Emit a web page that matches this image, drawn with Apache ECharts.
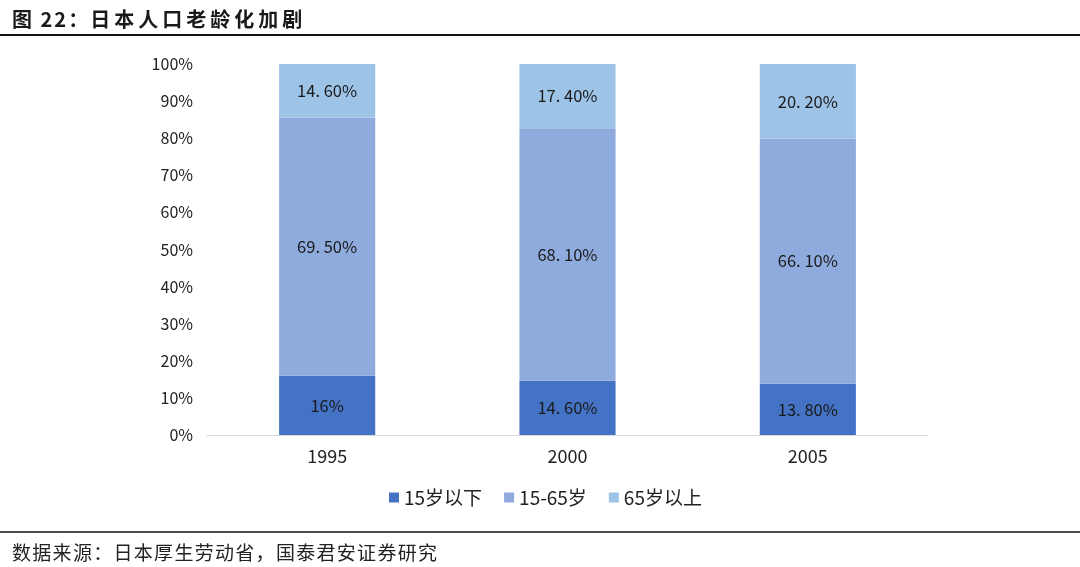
<!DOCTYPE html>
<html>
<head>
<meta charset="utf-8">
<script src="https://cdn.jsdelivr.net/npm/echarts@6/dist/echarts.min.js"></script>
<style>
html,body{margin:0;padding:0;background:#fff;}
#wrap{position:relative;width:1080px;height:567px;}
#c{width:1080px;height:567px;}
.t{position:absolute;font-family:"Noto Sans CJK SC","Noto Sans",sans-serif;white-space:nowrap;}
#title{left:12px;top:4px;font-size:20px;font-weight:bold;color:#1a1a1a;}
#title .p{letter-spacing:2px;}
#title .m{letter-spacing:4px;}
#source{left:12px;top:538px;font-size:19px;color:#222;letter-spacing:1.3px;}
</style>
</head>
<body>
<div id="wrap">
<div id="c"></div>
<div class="t" id="title"><span class="p">图 22：</span><span class="m">日本人口老龄化加剧</span></div>
<div class="t" id="source">数据来源：日本厚生劳动省，国泰君安证券研究</div>
</div>
<script>
var categories = ['1995', '2000', '2005'];
var under15 = [16, 14.6, 13.8];
var age15to65 = [69.5, 68.1, 66.1];
var over65 = [14.6, 17.4, 20.2];
var seriesNames = ['15岁以下', '15-65岁', '65岁以上'];
var yTicks = [0, 10, 20, 30, 40, 50, 60, 70, 80, 90, 100];

function fmt(p) {
  var v = p.value;
  if (Number.isInteger(v)) return v + '%';
  return v.toFixed(2).replace('.', '. ') + '%';
}

var font = '"Noto Sans CJK SC", "Noto Sans", sans-serif';
var labelStyle = { show: true, position: 'inside', formatter: fmt, color: '#1a1a1a', fontSize: 16.5, fontFamily: font };

var chart = echarts.init(document.getElementById('c'));
chart.setOption({
  backgroundColor: '#fff',
  animation: false,
  grid: { left: 207, right: 152, top: 64, bottom: 132, containLabel: false },
  legend: {
    data: seriesNames,
    bottom: 55,
    left: 384,
    itemWidth: 10, itemHeight: 10, itemGap: 22,
    icon: 'rect',
    textStyle: { fontSize: 19, color: '#222', fontFamily: font }
  },
  xAxis: {
    type: 'category',
    data: categories,
    axisLine: { lineStyle: { color: '#d9d9d9', width: 1 } },
    axisTick: { show: false },
    axisLabel: { fontSize: 18, color: '#222', margin: 12, fontFamily: font }
  },
  yAxis: {
    type: 'value',
    min: yTicks[0], max: yTicks[yTicks.length - 1], interval: 10,
    axisLine: { show: false },
    axisTick: { show: false },
    splitLine: { show: false },
    axisLabel: { fontSize: 16, color: '#222', margin: 14, formatter: '{value}%', fontFamily: font }
  },
  series: [
    { name: seriesNames[0], type: 'bar', stack: 'a', data: under15, barWidth: '40%', itemStyle: { color: '#4472C4', borderWidth: 0 }, label: labelStyle },
    { name: seriesNames[1], type: 'bar', stack: 'a', data: age15to65, barWidth: '40%', itemStyle: { color: '#8FAADC', borderWidth: 0 }, label: labelStyle },
    { name: seriesNames[2], type: 'bar', stack: 'a', data: over65, barWidth: '40%', itemStyle: { color: '#9DC3E6', borderWidth: 0 }, label: labelStyle }
  ],
  graphic: [
    { type: 'line', shape: { x1: 0, y1: 35, x2: 1080, y2: 35 }, style: { stroke: '#111', lineWidth: 2 } },
    { type: 'line', shape: { x1: 0, y1: 532, x2: 1080, y2: 532 }, style: { stroke: '#111', lineWidth: 1.5 } }
  ]
});
</script>
</body>
</html>
